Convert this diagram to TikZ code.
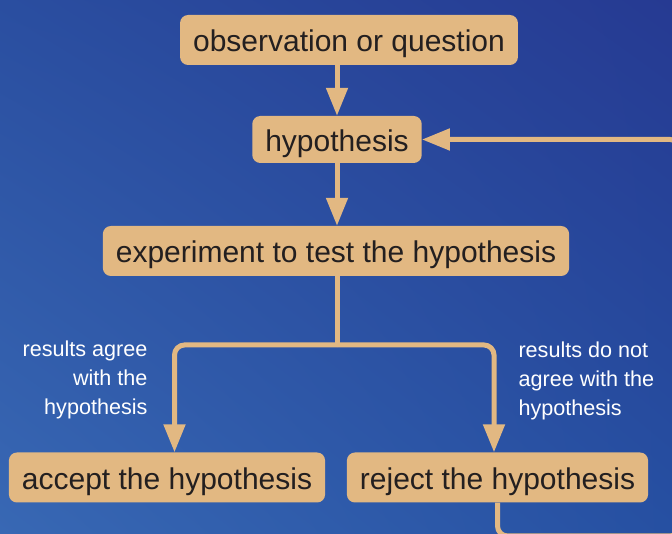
\documentclass[tikz,border=0pt]{standalone}
\usepackage{fontspec}
\setmainfont{Liberation Sans}
\usetikzlibrary{arrows.meta,positioning,calc,shadings}
\definecolor{boxtan}{RGB}{226,184,130}
\definecolor{boxink}{RGB}{35,31,32}
\definecolor{bgll}{RGB}{56,104,180}
\definecolor{bgul}{RGB}{42,78,160}
\definecolor{bgur}{RGB}{38,58,146}
\definecolor{bglr}{RGB}{38,80,162}
\begin{document}
\begin{tikzpicture}[x=1pt,y=1pt,
  box/.style={fill=boxtan,rounded corners=8pt,text=boxink,font=\fontsize{30}{36}\selectfont,inner xsep=13pt,text height=26pt,text depth=2pt,minimum height=50pt},
  link/.style={draw=boxtan,line width=5pt},
  flow/.style={link,-{Triangle[length=28pt,width=21pt]}},
  note/.style={text=white,font=\fontsize{21.6}{29}\selectfont}]
  \shade[lower left=bgll,upper left=bgul,upper right=bgur,lower right=bglr] (0,0) rectangle (672,534);
  \useasboundingbox (0,0) rectangle (672,534);
  \clip (0,0) rectangle (672,534);
  \node (obs) [box] at (349,494) {observation or question};
  \node (hyp) [box,minimum height=47pt] at (337,394.5) {hypothesis};
  \node (exp) [box] at (336,283) {experiment to test the hypothesis};
  \node (acc) [box] at (167,56.5) {accept the hypothesis};
  \node (rej) [box] at (497.5,56.5) {reject the hypothesis};
  \node (agree) [note,align=right,anchor=east] at (151,154) {results agree\\with the\\hypothesis};
  \node (disagree) [note,align=left,anchor=west] at (515,153) {results do not\\agree with the\\hypothesis};
  \coordinate (split) at (337,189);
  \coordinate (loopfoot) at (680,-2);
  \coordinate (looptop) at (680,394.5);
  \draw[flow] (hyp.north |- obs.south) -- (hyp.north);
  \draw[flow] (hyp.south) -- (exp.north -| hyp.south);
  \draw[link] (exp.south -| split) -- (split);
  \draw[flow,rounded corners=10pt] (split) -| ([xshift=7.5pt]acc.north);
  \draw[flow,rounded corners=10pt] (split) -| ([xshift=-3.5pt]rej.north);
  \draw[flow,rounded corners=10pt] (rej.south) |- (loopfoot) -- (looptop) -- (hyp.east);
\end{tikzpicture}
\end{document}
